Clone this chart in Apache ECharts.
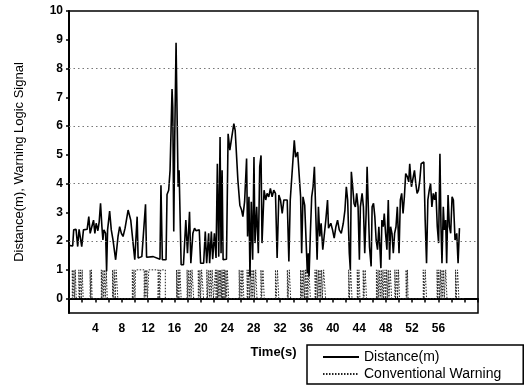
<!DOCTYPE html>
<html>
<head>
<meta charset="utf-8">
<script src="https://cdn.jsdelivr.net/npm/echarts@6/dist/echarts.min.js"></script>
<style>html,body{margin:0;padding:0;background:#fff}#c{width:528px;height:388px}</style>
</head>
<body>
<div id="c"></div>
<script>
// Distance(m) series: time (s) and value
const distT = [0,0.56,0.71,1.07,1.32,1.53,1.78,1.93,2.19,2.49,2.75,3.0,3.21,3.46,3.72,3.92,4.12,4.38,4.58,4.78,4.99,5.14,5.29,5.55,5.7,5.85,6.16,6.41,6.67,7.07,7.43,7.68,7.94,8.19,8.5,8.96,9.36,9.97,10.33,10.48,11.04,11.6,11.76,12.77,13.79,13.94,14.15,14.71,14.86,15.11,15.32,15.47,15.62,15.73,15.88,16.03,16.23,16.39,16.54,16.69,17.0,17.35,17.71,17.96,18.27,18.47,18.78,19.03,19.24,19.49,19.75,19.95,20.41,20.66,20.87,21.17,21.32,21.58,21.78,22.04,22.29,22.49,22.7,22.9,23.05,23.21,23.36,23.87,24.12,24.38,24.68,24.99,25.19,25.6,25.9,26.16,26.36,26.62,26.92,27.07,27.28,27.43,27.63,27.84,28.04,28.19,28.45,28.7,28.91,29.11,29.26,29.57,29.82,
30.03,30.28,30.53,30.79,31.04,31.3,31.55,31.81,32.06,32.32,32.57,32.82,33.08,33.33,33.54,33.84,34.15,34.35,34.66,34.86,35.11,35.27,35.47,35.73,35.88,36.13,36.28,36.39,36.59,36.79,37.0,37.2,37.4,37.61,37.81,38.02,38.22,38.47,38.68,38.93,39.19,39.34,39.69,39.95,40.2,40.46,40.71,40.97,41.27,41.58,41.83,42.04,42.24,42.49,42.65,42.8,43.0,43.21,43.41,43.61,43.82,44.02,44.17,44.43,44.63,44.83,45.04,45.19,45.34,45.55,45.8,45.95,46.16,46.36,46.56,46.77,46.97,47.12,47.28,47.43,47.63,47.79,47.99,48.19,48.4,48.6,48.75,48.96,49.16,49.36,49.57,49.77,50.03,50.23,50.43,50.64,50.84,51.04,51.3,51.5,51.65,51.91,52.16,52.37,52.57,52.77,52.98,53.18,53.38,53.59,53.79,53.99,54.2,54.4,54.61,54.81,55.01,55.22,55.42,55.62,55.83,56.03,56.23,56.39,56.54,56.74,56.9,57.1,57.25,57.46,57.66,57.86,58.07,58.27,58.52,58.78,58.98,59.19];
const distV = [1.85,1.83,2.39,2.41,1.81,2.41,2.39,1.81,2.39,2.33,2.41,2.85,2.27,2.5,2.73,2.27,2.62,2.36,2.68,3.31,2.5,2.04,2.39,2.27,0.95,2.39,3.04,2.39,2.04,1.35,2.16,2.5,2.27,2.16,2.45,3.08,2.73,1.35,2.85,1.41,1.46,3.28,1.44,1.46,1.37,3.94,1.35,1.35,3.62,3.77,4.46,5.85,7.29,6.66,2.33,5.62,8.9,8.85,3.89,4.46,1.18,1.18,2.73,1.58,3.02,1.23,2.27,2.45,2.36,2.42,2.39,1.23,1.23,2.33,1.23,2.27,1.23,2.33,1.37,2.27,1.41,4.69,1.46,5.62,1.58,4.46,1.35,1.37,5.73,5.16,5.62,6.08,5.85,4.12,3.25,3.08,2.85,3.37,4.87,2.16,3.54,0.77,3.37,1.35,4.92,1.93,3.19,1.58,4.58,4.98,1.93,3.77,3.43,
3.66,3.54,3.83,3.54,3.77,3.66,1.41,3.6,3.43,2.96,3.43,3.48,3.43,1.29,3.43,3.48,5.5,4.92,5.1,5.16,3.54,1.58,3.54,3.25,3.31,0.89,1.58,0.77,2.27,3.54,3.89,4.58,4.64,1.35,3.19,2.16,2.62,1.7,1.7,2.73,3.43,2.45,2.62,2.39,2.1,2.5,2.73,2.39,2.27,2.62,3.08,3.89,3.43,1.58,1.0,4.41,3.89,3.31,3.19,3.66,3.19,1.35,3.19,3.66,3.19,1.58,2.96,4.58,4.58,1.81,1.12,3.19,3.31,2.85,2.04,1.7,2.5,1.81,1.06,2.73,2.5,2.96,2.27,1.7,3.43,1.35,2.5,2.27,1.58,2.27,2.5,3.19,1.58,3.43,3.66,2.96,3.54,4.35,4.23,4.06,4.69,3.89,3.83,4.46,4.0,3.66,3.77,4.12,4.69,4.75,4.75,2.73,1.23,3.43,3.77,4.0,3.19,3.66,3.43,3.71,2.5,1.93,5.04,2.5,1.23,3.19,2.39,2.73,1.23,3.6,2.5,2.27,3.54,3.43,2.04,2.27,1.23,2.45];

// Conventional Warning: intervals (start, end in s) where the logic signal is 1
const warnOn  = [0.5,0.75,0.95,1.5,1.75,2.0,3.2,3.4,4.9,5.15,5.4,5.65,6.6,6.85,7.15,9.6,9.85,10.1,11.55,11.8,12.1,13.65,13.9,16.3,16.55,16.8,17.9,18.15,18.4,18.65,19.6,19.85,20.1,20.9,21.2,21.45,21.7,22.2,22.4,22.6,22.8,23.0,23.2,23.4,23.6,23.8,24.0,25.8,26.1,26.35,27.0,27.25,27.5,27.75,28.0,28.3,29.1,29.4,31.3,31.6,33.1,33.4,35.1,35.35,35.6,35.85,36.1,36.35,37.3,37.55,37.8,38.05,38.3,38.6,42.4,42.7,43.7,43.95,44.6,44.9,46.6,46.85,47.1,47.35,47.6,47.9,48.15,48.4,48.7,49.4,49.7,49.95,51.1,51.3,53.7,54.0,55.8,56.05,56.3,56.55,56.8,57.1,58.6,58.9];
const warnOff = [0.6,0.85,1.1,1.6,1.85,2.15,3.3,3.5,5.0,5.25,5.5,5.8,6.7,7.0,7.4,9.7,10.0,11.4,11.65,11.9,13.5,13.75,14.6,16.4,16.65,17.0,18.0,18.25,18.5,18.9,19.7,19.95,20.4,21.0,21.3,21.55,21.9,22.3,22.5,22.7,22.9,23.1,23.3,23.5,23.7,23.9,24.2,25.9,26.2,26.5,27.1,27.35,27.6,27.85,28.1,28.5,29.2,29.6,31.4,31.8,33.2,33.6,35.2,35.45,35.7,35.95,36.2,36.6,37.4,37.65,37.9,38.15,38.4,38.9,42.5,42.9,43.8,44.1,44.7,45.1,46.7,46.95,47.2,47.45,47.7,48.0,48.25,48.5,48.9,49.5,49.8,50.1,51.2,51.4,53.8,54.2,55.9,56.15,56.4,56.65,56.9,57.3,58.7,59.1];
const warnEnd = 60;

// Axis ticks / labels
const yTickValues = [0,1,2,3,4,5,6,7,8,9,10];
const gridYValues = [2,4,6,8];
const xLabelValues = [4,8,12,16,20,24,28,32,36,40,44,48,52,56];

const distData = distT.map((t, i) => [t, distV[i]]);
const warnData = [[0, 0]];
warnOn.forEach((s, i) => {
  const e = warnOff[i];
  warnData.push([s, 0], [s, 1], [e, 1], [e, 0]);
});
warnData.push([warnEnd, 0]);

const FONT = 'Liberation Sans, Arial, sans-serif';
const chart = echarts.init(document.getElementById('c'), null, {renderer: 'canvas'});
chart.setOption({
  animation: false,
  backgroundColor: '#fff',
  grid: {left: 69, right: 50, top: 11, bottom: 75, show: true, borderColor: '#000', borderWidth: 1.5, backgroundColor: 'transparent'},
  xAxis: {
    type: 'value', min: 0, max: 62, interval: 2,
    name: 'Time(s)', nameLocation: 'middle', nameGap: 33,
    nameTextStyle: {fontFamily: FONT, fontWeight: 'bold', fontSize: 13, color: '#000'},
    axisLine: {lineStyle: {color: '#000', width: 2}},
    axisTick: {show: true, length: 4, lineStyle: {color: '#000', width: 1.5}},
    axisLabel: {
      fontFamily: FONT, fontWeight: 'bold', fontSize: 12, color: '#000', margin: 10,
      formatter: v => xLabelValues.indexOf(v) >= 0 ? String(v) : ''
    },
    splitLine: {show: false}
  },
  yAxis: {
    type: 'value', min: -0.5, max: 10,
    name: 'Distance(m), Warning Logic Signal', nameLocation: 'middle', nameGap: 43,
    nameTextStyle: {fontFamily: FONT, fontSize: 13, color: '#000'},
    axisLine: {show: true, lineStyle: {color: '#000', width: 2}},
    axisTick: {show: true, length: 3, customValues: yTickValues, lineStyle: {color: '#000', width: 1.5}},
    axisLabel: {fontFamily: FONT, fontWeight: 'bold', fontSize: 12, color: '#000', margin: 6, customValues: yTickValues},
    splitLine: {show: false}
  },
  legend: {
    left: 307, top: 345, orient: 'vertical',
    padding: [5, 22, 3, 15], itemGap: 3, itemWidth: 36, itemHeight: 15,
    borderColor: '#000', borderWidth: 1.5, backgroundColor: '#fff',
    itemStyle: {color: 'rgba(0,0,0,0)', borderWidth: 0, opacity: 0},
    textStyle: {fontFamily: FONT, fontSize: 14, color: '#000'},
    data: ['Distance(m)', 'Conventional Warning']
  },
  series: [
    {
      name: 'Conventional Warning', type: 'line', data: warnData, symbol: 'none', showSymbol: false,
      lineStyle: {color: '#222', width: 1, type: [1.5, 1.5]}, itemStyle: {color: '#222'}, z: 2,
      markLine: {
        silent: true, symbol: 'none', label: {show: false},
        lineStyle: {color: '#777', width: 1, type: [1.5, 3]},
        data: gridYValues.map(v => ({yAxis: v}))
      }
    },
    {
      name: 'Distance(m)', type: 'line', data: distData, symbol: 'none', showSymbol: false,
      lineStyle: {color: '#000', width: 1.6}, itemStyle: {color: '#000'}, z: 3
    }
  ]
});
</script>
</body>
</html>
